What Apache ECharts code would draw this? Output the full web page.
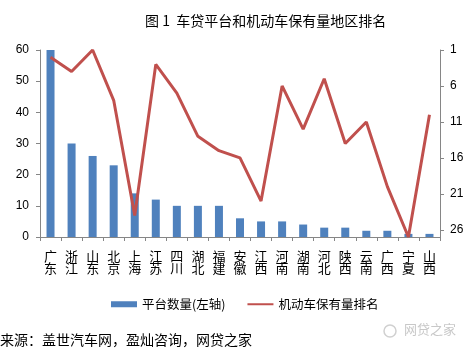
<!DOCTYPE html>
<html>
<head>
<meta charset="utf-8">
<script src="https://cdn.jsdelivr.net/npm/echarts@6/dist/echarts.min.js"></script>
<style>html,body{margin:0;padding:0;background:#fff;}#c{width:475px;height:354px;}</style>
</head>
<body>
<div id="c"></div>
<script>
var categories = ['广东','浙江','山东','北京','上海','江苏','四川','湖北','福建','安徽','江西','河南','湖南','河北','陕西','云南','广西','宁夏','山西'];
var platformCounts = [60,30,26,23,14,12,10,10,10,6,5,5,4,3,3,2,2,1,1];
var vehicleRanks = [2,4,1,8,24,3,7,13,15,16,22,6,12,5,14,11,20,27,10];
var leftTicks = {min:0, max:60, interval:10};
var rightTicks = {min:1, max:27, interval:5};
var titleText = '图 1  车贷平台和机动车保有量地区排名';
var sourceText = '来源：盖世汽车网，盈灿咨询，网贷之家';
var watermarkText = '网贷之家';
var seriesNames = ['平台数量(左轴)','机动车保有量排名'];

var FONT = '"Noto Sans CJK SC", "Liberation Sans", sans-serif';
var chart = echarts.init(document.getElementById('c'), null, {renderer:'canvas'});
chart.setOption({
  animation:false,
  backgroundColor:'#fff',
  textStyle:{fontFamily:FONT},
  title:{
    text:titleText, left:140, top:9,
    textStyle:{fontSize:14, fontWeight:'normal', color:'#000', fontFamily:FONT}
  },
  grid:{left:40, right:35, top:50, bottom:117, containLabel:false},
  legend:{
    left:106, top:293, itemGap:22, itemWidth:26, itemHeight:6,
    textStyle:{fontSize:12.5, color:'#000', fontFamily:FONT},
    data:[
      {name:seriesNames[0], icon:'rect'},
      {name:seriesNames[1], icon:'path://M0,0h26v2h-26z', itemStyle:{color:'#C0504D'}}
    ]
  },
  xAxis:{
    type:'category', data:categories,
    axisLine:{lineStyle:{color:'#868686', width:1}},
    axisTick:{show:true, alignWithLabel:false, length:4, lineStyle:{color:'#868686'}},
    axisLabel:{
      interval:0, margin:13, fontSize:13, color:'#000', lineHeight:12, fontFamily:FONT,
      formatter:function(v){return v.split('').join('\n');}
    }
  },
  yAxis:[
    {
      type:'value', min:leftTicks.min, max:leftTicks.max, interval:leftTicks.interval,
      axisLine:{show:true, lineStyle:{color:'#868686'}},
      axisTick:{show:true, length:4, lineStyle:{color:'#868686'}},
      splitLine:{show:false},
      axisLabel:{fontSize:12, color:'#000', margin:11, fontFamily:'"Liberation Sans", sans-serif'}
    },
    {
      type:'value', inverse:true, min:rightTicks.min, max:rightTicks.max, interval:rightTicks.interval,
      position:'right',
      axisLine:{show:true, lineStyle:{color:'#868686'}},
      axisTick:{show:true, length:4, lineStyle:{color:'#868686'}},
      splitLine:{show:false},
      axisLabel:{fontSize:12, color:'#000', margin:10, showMaxLabel:false,
        fontFamily:'"Liberation Sans", sans-serif',
        formatter:function(v){return v===rightTicks.max?'':String(v);}
      }
    }
  ],
  series:[
    {
      name:seriesNames[0], type:'bar', yAxisIndex:0, data:platformCounts,
      barWidth:8, itemStyle:{color:'#4F81BD'}
    },
    {
      name:seriesNames[1], type:'line', yAxisIndex:1, data:vehicleRanks,
      symbol:'none', lineStyle:{color:'#C0504D', width:3}, itemStyle:{color:'#C0504D'}
    }
  ],
  graphic:[
    {type:'text', left:0, top:333, style:{text:sourceText, fontSize:14, fill:'#000', fontFamily:FONT}},
    {type:'text', left:404, top:323, style:{text:watermarkText, fontSize:13, fill:'#c8c8c8', fontFamily:FONT}},
    {type:'circle', shape:{cx:390, cy:331, r:6}, style:{fill:'none', stroke:'#d0d0d0', lineWidth:1.5}}
  ]
});
</script>
</body>
</html>
